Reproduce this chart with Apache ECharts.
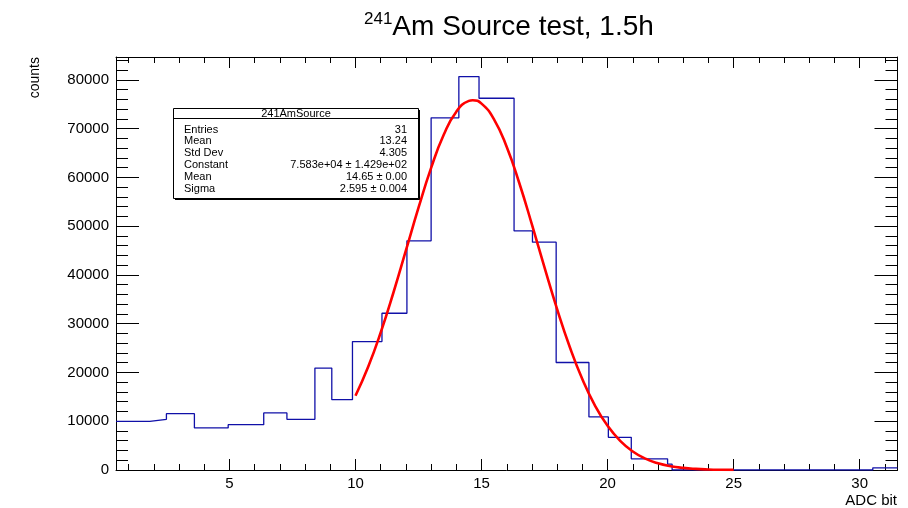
<!DOCTYPE html>
<html>
<head>
<meta charset="utf-8">
<script src="https://cdn.jsdelivr.net/npm/echarts@6/dist/echarts.min.js"></script>
<style>
  html, body { margin: 0; padding: 0; background: #fff; }
  #chart { width: 908px; height: 508px; }
</style>
</head>
<body>
<div id="chart"></div>
<script>
// bin low edges (last entry is the upper edge of the last bin)
var binEdges = [0.5, 1.84, 2.50, 3.61, 4.95, 6.36, 7.28, 8.39, 9.06, 9.88, 11.05, 12.04, 13.00,
                14.10, 14.90, 16.29, 17.02, 17.96, 19.26, 20.03, 20.94, 22.38, 22.56, 30.52, 31.5];
var binCounts = [9980, 10390, 11550, 8630, 9300, 11700, 10390, 20900, 14420, 26340, 32150, 47000,
                 72230, 80680, 76240, 49040, 46730, 22050, 10880, 6710, 2290, 1190, 0, 450];

// gaus fit, read at 0.5 steps from 10 to 25
var fitX = [10, 10.5, 11, 11.5, 12, 12.5, 13, 13.5, 14, 14.5, 14.65, 15, 15.5, 16, 16.5, 17, 17.5,
            18, 18.5, 19, 19.5, 20, 20.5, 21, 21.5, 22, 22.5, 23, 23.5, 24, 24.5, 25];
var fitY = [15230, 21110, 28200, 36300, 45020, 53800, 61950, 68740, 73490, 75700, 75830, 75140,
            71870, 66230, 58810, 50320, 41490, 32960, 25230, 18610, 13220, 9055, 5975, 3797, 2326,
            1373, 781, 428, 226, 115, 56, 27];

var statNames = ['Entries', 'Mean', 'Std Dev', 'Constant', 'Mean', 'Sigma'];
var statValues = ['31', '13.24', '4.305', '7.583e+04 \u00b1 1.429e+02', '14.65 \u00b1 0.00', '2.595 \u00b1 0.004'];

var FONT = '"Liberation Sans", Arial, Helvetica, sans-serif';

var histData = [];
for (var i = 0; i < binCounts.length; i++) histData.push([binEdges[i], binCounts[i]]);
histData.push([binEdges[binEdges.length - 1], binCounts[binCounts.length - 1]]);

var fitData = fitX.map(function (x, i) { return [x, fitY[i]]; });

function xAxisOpt(pos, labels) {
    return {
        type: 'value', min: 0.5, max: 31.5, position: pos,
        axisLine: { show: true, onZero: false, lineStyle: { color: '#000', width: 1 } },
        axisTick: { show: true, inside: true, length: 11, lineStyle: { color: '#000', width: 1 } },
        minorTick: { show: true, splitNumber: 5, length: 6, lineStyle: { color: '#000', width: 1 } },
        splitLine: { show: false },
        axisLabel: {
            show: labels, color: '#000', fontSize: 15, fontFamily: FONT, margin: 6,
            formatter: function (v) { return (Math.abs(v % 5) < 1e-9) ? String(v) : ''; }
        }
    };
}
function yAxisOpt(pos, labels) {
    return {
        type: 'value', min: 0, max: 84700, interval: 10000, position: pos,
        axisLine: { show: true, onZero: false, lineStyle: { color: '#000', width: 1 } },
        axisTick: { show: true, inside: true, length: 23, lineStyle: { color: '#000', width: 1 } },
        minorTick: { show: true, splitNumber: 5, length: 12, lineStyle: { color: '#000', width: 1 } },
        splitLine: { show: false },
        axisLabel: {
            show: labels, color: '#000', fontSize: 15, fontFamily: FONT, margin: 7,
            formatter: function (v) { return (v % 10000 === 0) ? String(v) : ''; }
        }
    };
}

// stats box
var box = { x: 173.5, y: 108.5, w: 245, h: 90 };
var boxEls = [
    { type: 'rect', shape: { x: box.x + 1.5, y: box.y + 1.5, width: box.w, height: box.h }, style: { fill: '#000' } },
    { type: 'rect', shape: { x: box.x, y: box.y, width: box.w, height: box.h }, style: { fill: '#fff', stroke: '#000', lineWidth: 1 } },
    { type: 'line', shape: { x1: box.x, y1: 118.5, x2: box.x + box.w, y2: 118.5 }, style: { stroke: '#000', lineWidth: 1 } },
    { type: 'text', x: box.x + box.w / 2, y: 114, style: { text: '241AmSource', fill: '#000', font: '11px ' + FONT, align: 'center', verticalAlign: 'middle' } }
];
statNames.forEach(function (n, i) {
    var yy = 129.5 + i * 11.8;
    boxEls.push({ type: 'text', x: 184, y: yy, style: { text: n, fill: '#000', font: '11px ' + FONT, align: 'left', verticalAlign: 'middle' } });
    boxEls.push({ type: 'text', x: 407, y: yy, style: { text: statValues[i], fill: '#000', font: '11px ' + FONT, align: 'right', verticalAlign: 'middle' } });
});

var chart = echarts.init(document.getElementById('chart'), null, { renderer: 'canvas' });
chart.setOption({
    backgroundColor: '#fff',
    animation: false,
    title: {
        text: '{sup|241}{main|Am Source test, 1.5h}',
        left: 364, top: 11, padding: 0,
        textStyle: {
            fontWeight: 'normal',
            rich: {
                sup: { fontSize: 17, fontWeight: 'normal', fontFamily: FONT, color: '#000', lineHeight: 17, verticalAlign: 'top' },
                main: { fontSize: 28, fontWeight: 'normal', fontFamily: FONT, color: '#000', lineHeight: 33 }
            }
        }
    },
    grid: { left: 116, right: 10.5, top: 57, bottom: 38, containLabel: false },
    xAxis: [xAxisOpt('bottom', true), xAxisOpt('top', false)],
    yAxis: [yAxisOpt('left', true), yAxisOpt('right', false)],
    series: [
        {
            type: 'line', data: histData, step: 'end', symbol: 'none',
            xAxisIndex: 0, yAxisIndex: 0,
            lineStyle: { color: '#1010a8', width: 1.3 }, z: 3
        },
        {
            type: 'line', data: fitData, smooth: true, symbol: 'none',
            xAxisIndex: 0, yAxisIndex: 0,
            lineStyle: { color: '#ff0000', width: 2.6 }, z: 4
        }
    ],
    graphic: [
        { type: 'text', x: 35, y: 57, rotation: Math.PI / 2,
          style: { text: 'counts', fill: '#000', font: '14px ' + FONT, align: 'right', verticalAlign: 'middle' } },
        { type: 'text', x: 897, y: 501,
          style: { text: 'ADC bit', fill: '#000', font: '15px ' + FONT, align: 'right', verticalAlign: 'middle' } },
        { type: 'group', children: boxEls, z: 10 }
    ]
});
</script>
</body>
</html>
